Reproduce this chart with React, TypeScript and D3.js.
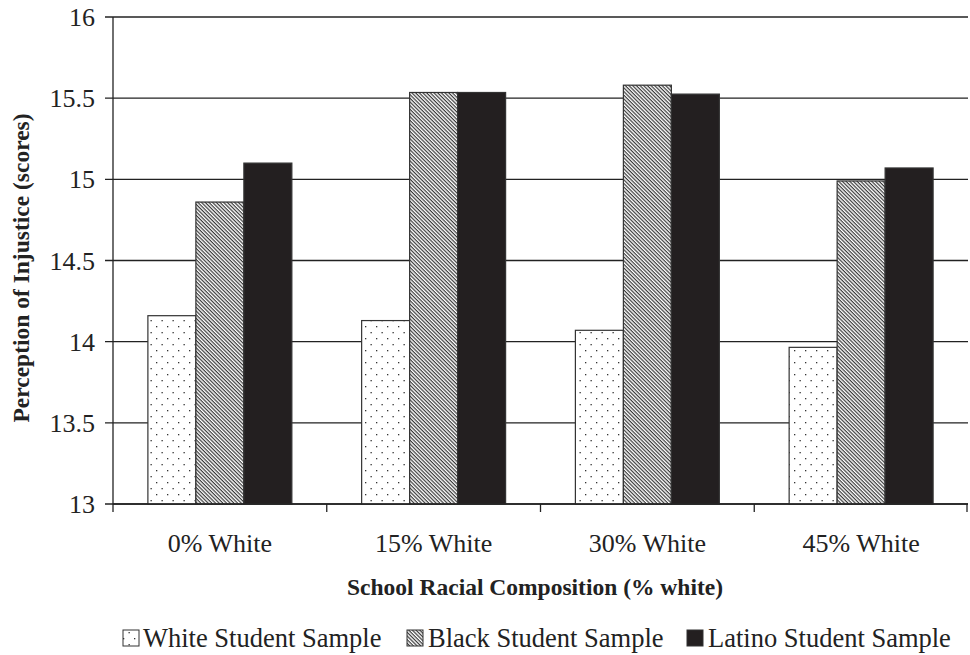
import React from "react";
import * as d3 from "d3";

const categories = ["0% White", "15% White", "30% White", "45% White"];
const seriesNames = ["White Student Sample", "Black Student Sample", "Latino Student Sample"];
const whiteValues = [14.16, 14.13, 14.07, 13.965];
const blackValues = [14.86, 15.535, 15.58, 14.99];
const latinoValues = [15.1, 15.535, 15.525, 15.07];
const yTicks = [13, 13.5, 14, 14.5, 15, 15.5, 16];

const W = 970;
const H = 655;
const margin = { left: 113, right: 2, top: 17, bottom: 151 };
const FONT = "'Liberation Serif', 'Times New Roman', serif";
const fills = ["url(#dots)", "url(#hatch)", "#231f20"];

export default function App() {
  const x = d3
    .scaleBand<string>()
    .domain(categories)
    .range([margin.left, W - margin.right])
    .paddingInner(0)
    .paddingOuter(0);
  const inner = d3.scaleBand<number>().domain([0, 1, 2]).range([0, x.bandwidth()]).paddingOuter(0.727).paddingInner(0);
  const y = d3.scaleLinear().domain([13, 16]).range([H - margin.bottom, margin.top]);
  const series = [whiteValues, blackValues, latinoValues];
  const x0 = margin.left;
  const x1 = W - margin.right;
  const yBase = y(13);

  const legendItems = [
    { sq: 123, tx: 143 },
    { sq: 407, tx: 428 },
    { sq: 687, tx: 708 },
  ];

  return (
    <svg width={W} height={H} style={{ position: "absolute", left: 0, top: 0, background: "#fff" }} fontFamily={FONT}>
      <defs>
        <pattern id="dots" patternUnits="userSpaceOnUse" width={11} height={12}>
          <rect width={11} height={12} fill="#fff" />
          <rect x={2} y={2} width={1.3} height={1.3} fill="#333" />
          <rect x={7.5} y={8} width={1.3} height={1.3} fill="#333" />
        </pattern>
        <pattern id="hatch" patternUnits="userSpaceOnUse" width={6} height={2.6} patternTransform="rotate(45)">
          <rect width={6} height={2.6} fill="#fff" />
          <line x1={0} x2={6} y1={0.6} y2={0.6} stroke="#3a3a3a" strokeWidth={1.2} />
        </pattern>
      </defs>

      {/* gridlines */}
      {yTicks.map((t) => (
        <g key={t}>
          <line x1={x0 - 8} x2={x1} y1={y(t)} y2={y(t)} stroke="#222" strokeWidth={1.3} />
          <text x={95} y={y(t)} dy="0.35em" textAnchor="end" fontSize={26} fill="#222">
            {t}
          </text>
        </g>
      ))}

      {/* bars */}
      {categories.map((c, ci) => (
        <g key={c}>
          {series.map((vals, si) => {
            const bx = (x(c) as number) + (inner(si) as number);
            return (
              <rect
                key={si}
                x={bx}
                y={y(vals[ci])}
                width={inner.bandwidth()}
                height={yBase - y(vals[ci])}
                fill={fills[si]}
                stroke="#333"
                strokeWidth={1.2}
              />
            );
          })}
        </g>
      ))}

      {/* axes */}
      <line x1={x0} x2={x0} y1={margin.top} y2={yBase} stroke="#222" strokeWidth={1.3} />
      <line x1={x0} x2={x1} y1={yBase} y2={yBase} stroke="#222" strokeWidth={1.3} />
      {[...categories.map((c) => x(c) as number), x1 - 1].map((px, i) => (
        <line key={i} x1={px} x2={px} y1={yBase} y2={yBase + 8} stroke="#222" strokeWidth={1.3} />
      ))}
      {categories.map((c) => (
        <text key={c} x={(x(c) as number) + x.bandwidth() / 2} y={552} textAnchor="middle" fontSize={26} fill="#222">
          {c}
        </text>
      ))}

      <text x={535} y={595} textAnchor="middle" fontSize={23.5} fontWeight="bold" fill="#222">
        School Racial Composition (% white)
      </text>
      <text
        transform={`translate(29, 268) rotate(-90)`}
        textAnchor="middle"
        fontSize={23.5}
        fontWeight="bold"
        fill="#222"
      >
        Perception of Injustice (scores)
      </text>

      {/* legend */}
      {seriesNames.map((n, i) => (
        <g key={n}>
          <rect x={legendItems[i].sq} y={630} width={16} height={16} fill={fills[i]} stroke="#333" strokeWidth={1} />
          <text x={legendItems[i].tx} y={647} fontSize={26.5} fill="#222">
            {n}
          </text>
        </g>
      ))}
    </svg>
  );
}
